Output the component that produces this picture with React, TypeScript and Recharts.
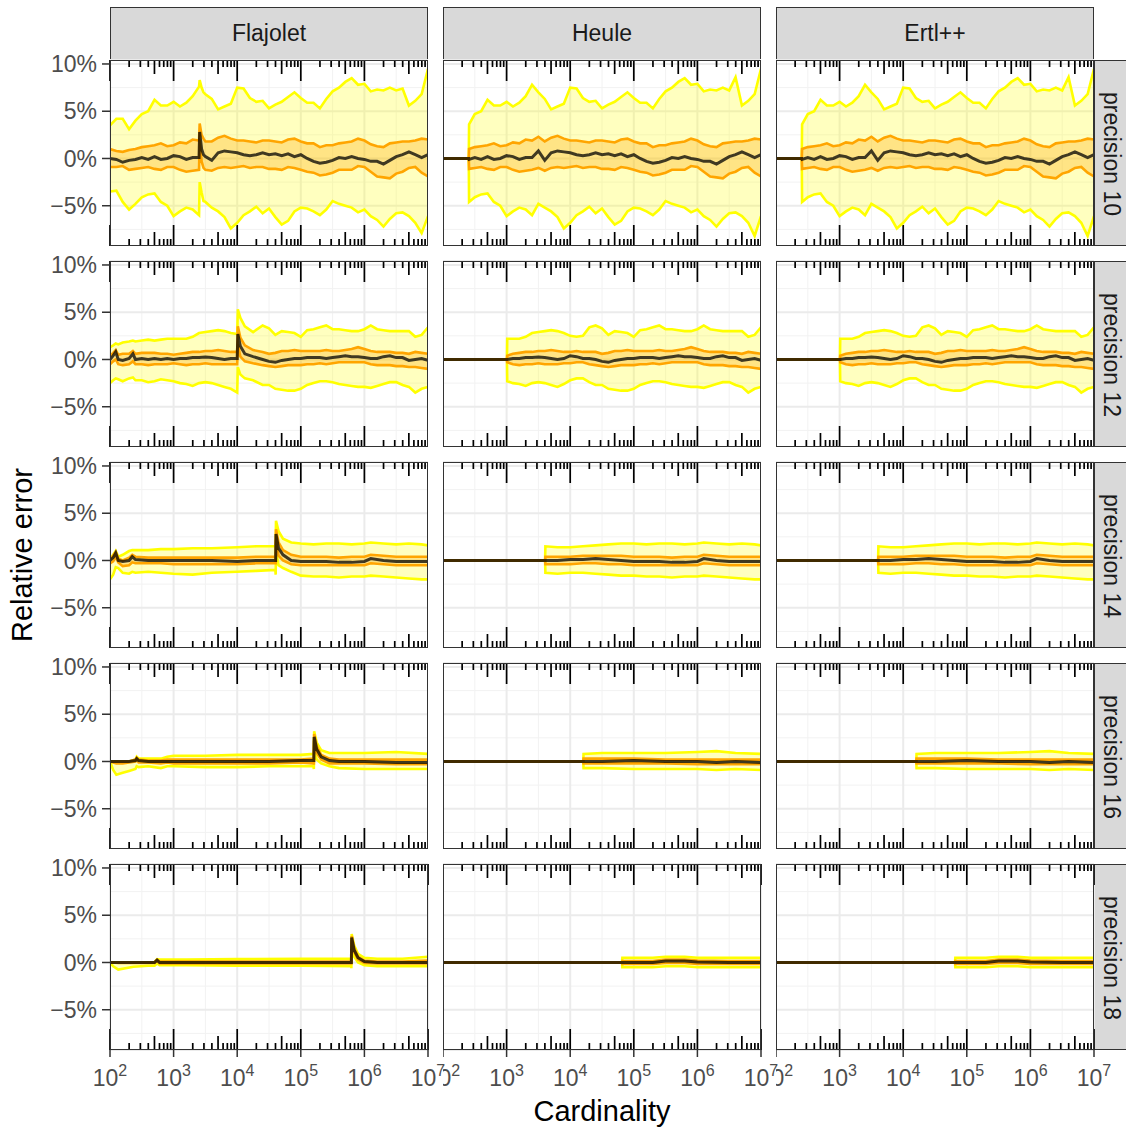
import React from 'react';
import { ComposedChart, Area, Line, XAxis, YAxis, CartesianGrid } from 'recharts';

// each row: [log10(cardinality), q2.5, q25, median, q75, q97.5]  (relative error in %)
const FLAJOLET_P10 = [
  [2.0, -3.5, -0.9, 0.0, 1.0, 3.5], [2.1, -3.4, -0.9, -0.1, 0.8, 4.2], [2.2, -4.6, -0.8, -0.4, 0.7, 4.2],
  [2.3, -5.4, -1.2, -0.2, 0.9, 3.1], [2.4, -4.8, -1.1, -0.1, 1.0, 4.0], [2.5, -4.1, -1.0, 0.1, 1.2, 4.7],
  [2.6, -3.8, -0.9, -0.1, 1.3, 5.0], [2.7, -3.7, -1.1, 0.2, 1.4, 6.2], [2.8, -4.6, -1.2, -0.1, 1.6, 5.6],
  [2.9, -5.0, -0.9, 0.0, 1.3, 5.6], [3.0, -6.1, -0.9, 0.3, 1.4, 6.0], [3.1, -5.6, -1.2, 0.2, 1.7, 5.5],
  [3.2, -5.2, -1.4, -0.1, 1.6, 5.9], [3.3, -5.4, -1.3, 0.1, 2.0, 6.6], [3.4, -6.0, -1.2, 0.1, 1.9, 7.6],
  [3.41, -2.5, 2.0, 2.8, 3.7, 8.3], [3.44, -3.6, -0.3, 1.0, 2.5, 7.5], [3.47, -4.5, -1.0, 0.4, 2.1, 7.0],
  [3.5, -4.6, -1.2, 0.2, 1.8, 6.8], [3.6, -5.2, -1.3, -0.2, 1.8, 6.3], [3.7, -5.6, -1.0, 0.6, 2.2, 5.2],
  [3.8, -6.2, -0.9, 0.8, 2.4, 5.5], [3.9, -7.4, -1.0, 0.7, 2.1, 5.8], [4.0, -6.8, -0.9, 0.6, 1.9, 7.5],
  [4.1, -6.0, -0.8, 0.4, 1.9, 7.4], [4.2, -5.6, -1.0, 0.3, 1.8, 6.4], [4.3, -5.1, -0.9, 0.4, 1.7, 6.0],
  [4.4, -5.8, -0.9, 0.6, 1.9, 6.1], [4.5, -5.3, -1.1, 0.4, 1.9, 5.3], [4.6, -6.2, -1.1, 0.5, 1.8, 5.7],
  [4.7, -7.0, -1.2, 0.3, 1.7, 6.0], [4.8, -6.6, -0.9, 0.5, 2.0, 6.5], [4.9, -5.6, -1.0, 0.2, 2.1, 7.0],
  [5.0, -5.2, -1.2, 0.4, 1.8, 6.4], [5.1, -5.3, -1.4, 0.0, 1.6, 5.9], [5.2, -5.6, -1.5, -0.3, 1.6, 5.9],
  [5.3, -6.0, -1.8, -0.5, 1.2, 5.3], [5.4, -5.4, -1.7, -0.4, 1.4, 6.3], [5.5, -4.5, -1.5, -0.2, 1.4, 7.1],
  [5.6, -4.8, -1.2, 0.1, 1.6, 7.5], [5.7, -5.0, -1.2, 0.0, 1.7, 8.1], [5.8, -5.2, -1.2, 0.2, 1.8, 8.5],
  [5.9, -5.7, -0.8, 0.0, 2.1, 7.8], [6.0, -5.4, -0.9, -0.1, 1.9, 7.9], [6.1, -6.1, -1.4, -0.3, 1.5, 7.1],
  [6.2, -6.5, -1.9, -0.3, 1.3, 7.3], [6.3, -7.2, -2.0, -0.6, 1.2, 7.2], [6.4, -6.4, -2.1, -0.2, 1.6, 7.5],
  [6.5, -5.8, -1.6, 0.2, 1.7, 7.2], [6.6, -5.7, -1.4, 0.4, 1.8, 7.4], [6.7, -6.1, -1.0, 0.7, 1.8, 5.6],
  [6.8, -6.8, -0.9, 0.4, 1.9, 6.1], [6.9, -7.9, -1.5, 0.1, 2.1, 6.8], [7.0, -6.1, -1.9, 0.4, 2.0, 9.5],
];

const HEULE_P10 = [
  [2.0, 0, 0, 0, 0, 0], [2.405, 0, 0, 0, 0, 0], [2.41, -4.6, -1.1, -0.1, 1.0, 3.6],
  [2.5, -4.1, -1.0, 0.1, 1.2, 4.7], [2.6, -3.8, -0.9, -0.1, 1.3, 5.0], [2.7, -3.7, -1.1, 0.2, 1.4, 6.2],
  [2.8, -4.6, -1.2, -0.1, 1.6, 5.6], [2.9, -5.0, -0.9, 0.0, 1.3, 5.6], [3.0, -6.1, -0.9, 0.3, 1.4, 6.0],
  [3.1, -5.6, -1.2, 0.2, 1.7, 5.5], [3.2, -5.2, -1.4, -0.1, 1.6, 5.9], [3.3, -5.4, -1.3, 0.1, 2.0, 6.6],
  [3.4, -6.0, -1.2, 0.1, 1.9, 7.8], [3.5, -4.8, -1.0, 0.8, 2.3, 7.0], [3.6, -5.2, -1.3, -0.2, 1.8, 6.3],
  [3.7, -5.6, -1.0, 0.6, 2.2, 5.2], [3.8, -6.2, -0.9, 0.8, 2.4, 5.5], [3.9, -7.4, -1.0, 0.7, 2.1, 5.8],
  [4.0, -6.8, -0.9, 0.6, 1.9, 7.5], [4.1, -6.0, -0.8, 0.4, 1.9, 7.4], [4.2, -5.6, -1.0, 0.3, 1.8, 6.4],
  [4.3, -5.1, -0.9, 0.4, 1.7, 6.0], [4.4, -5.8, -0.9, 0.6, 1.9, 6.1], [4.5, -5.3, -1.1, 0.4, 1.9, 5.3],
  [4.6, -6.2, -1.1, 0.5, 1.8, 5.7], [4.7, -7.0, -1.2, 0.3, 1.7, 6.0], [4.8, -6.6, -0.9, 0.5, 2.0, 6.5],
  [4.9, -5.6, -1.0, 0.2, 2.1, 7.0], [5.0, -5.2, -1.2, 0.4, 1.8, 6.4], [5.1, -5.3, -1.4, 0.0, 1.6, 5.9],
  [5.2, -5.6, -1.5, -0.3, 1.6, 5.9], [5.3, -6.0, -1.8, -0.5, 1.2, 5.3], [5.4, -5.4, -1.7, -0.4, 1.4, 6.3],
  [5.5, -4.5, -1.5, -0.2, 1.4, 7.1], [5.6, -4.8, -1.2, 0.1, 1.6, 7.5], [5.7, -5.0, -1.2, 0.0, 1.7, 8.1],
  [5.8, -5.2, -1.2, 0.2, 1.8, 8.5], [5.9, -5.7, -0.8, 0.0, 2.1, 7.8], [6.0, -5.4, -0.9, -0.1, 1.9, 7.9],
  [6.1, -6.1, -1.4, -0.3, 1.5, 7.1], [6.2, -6.5, -1.9, -0.3, 1.3, 7.3], [6.3, -7.2, -2.0, -0.6, 1.2, 7.2],
  [6.4, -6.4, -2.1, -0.2, 1.6, 7.5], [6.5, -5.8, -1.6, 0.2, 1.7, 7.2], [6.6, -5.7, -1.4, 0.4, 1.8, 8.6],
  [6.7, -6.1, -1.0, 0.7, 1.8, 5.6], [6.8, -6.8, -0.9, 0.4, 1.9, 6.1], [6.9, -8.2, -1.5, 0.1, 2.1, 6.8],
  [7.0, -6.1, -1.9, 0.4, 2.0, 9.5],
];

const FLAJOLET_P12 = [
  [2.0, -2.5, -0.5, 0.0, 0.4, 1.3], [2.05, -2.2, -0.2, 0.4, 0.7, 1.5], [2.09, -2.0, 0.0, 0.8, 1.0, 1.7],
  [2.13, -2.1, -0.5, 0.0, 0.5, 1.6], [2.2, -2.3, -0.6, -0.1, 0.6, 1.8], [2.3, -2.0, -0.5, 0.1, 0.6, 1.9],
  [2.36, -1.9, -0.2, 0.6, 0.9, 2.0], [2.4, -2.2, -0.5, 0.0, 0.6, 1.9], [2.5, -2.2, -0.5, 0.1, 0.7, 2.0],
  [2.6, -2.4, -0.6, 0.0, 0.7, 2.1], [2.7, -2.3, -0.5, 0.1, 0.7, 2.0], [2.8, -2.1, -0.5, 0.0, 0.6, 2.1],
  [2.9, -2.2, -0.5, 0.1, 0.6, 2.2], [3.0, -2.3, -0.4, 0.0, 0.5, 2.2], [3.1, -2.5, -0.5, 0.1, 0.6, 2.2],
  [3.2, -2.6, -0.6, 0.1, 0.7, 2.2], [3.3, -2.8, -0.5, 0.2, 0.8, 2.4], [3.4, -2.5, -0.5, 0.2, 0.8, 2.8],
  [3.5, -2.4, -0.4, 0.25, 0.9, 2.9], [3.6, -2.5, -0.5, 0.2, 0.9, 3.0], [3.7, -2.7, -0.5, 0.1, 1.0, 3.1],
  [3.8, -2.9, -0.5, 0.0, 0.9, 3.0], [3.9, -3.1, -0.5, 0.1, 0.8, 2.8], [4.0, -3.5, -0.5, 0.1, 0.8, 2.7],
  [4.01, -0.8, 1.6, 2.7, 3.5, 5.3], [4.05, -1.6, 0.3, 1.4, 2.3, 4.4], [4.12, -2.0, -0.2, 0.6, 1.5, 3.5],
  [4.25, -2.2, -0.4, 0.3, 1.0, 2.9], [4.4, -2.7, -0.6, 0.0, 0.8, 3.6], [4.5, -2.7, -0.7, -0.2, 0.6, 3.3],
  [4.6, -3.1, -0.8, -0.3, 0.7, 2.6], [4.7, -3.2, -0.7, -0.1, 0.9, 3.0], [4.8, -3.3, -0.6, 0.0, 0.9, 2.9],
  [4.9, -3.3, -0.6, 0.1, 1.0, 2.8], [5.0, -3.1, -0.6, 0.1, 0.9, 2.4], [5.1, -2.7, -0.5, 0.2, 0.9, 3.1],
  [5.2, -2.5, -0.5, 0.2, 0.9, 3.2], [5.3, -2.3, -0.4, 0.2, 0.9, 3.4], [5.4, -2.3, -0.5, 0.1, 1.0, 3.6],
  [5.5, -2.4, -0.4, 0.2, 0.9, 3.2], [5.6, -2.6, -0.3, 0.3, 0.9, 3.2], [5.7, -2.7, -0.3, 0.4, 1.0, 3.1],
  [5.8, -2.8, -0.3, 0.3, 1.1, 3.0], [5.9, -2.9, -0.3, 0.3, 1.3, 3.0], [6.0, -2.9, -0.3, 0.2, 1.1, 3.2],
  [6.1, -3.0, -0.5, 0.1, 0.9, 3.6], [6.2, -2.8, -0.6, 0.1, 0.8, 3.2], [6.3, -2.6, -0.6, 0.3, 0.8, 3.1],
  [6.4, -2.4, -0.6, 0.4, 0.8, 3.0], [6.5, -2.4, -0.7, 0.2, 0.7, 3.0], [6.6, -2.7, -0.7, 0.2, 0.7, 3.0],
  [6.7, -2.9, -0.8, -0.1, 0.6, 3.0], [6.8, -3.5, -0.8, 0.0, 0.8, 2.4], [6.9, -3.1, -0.9, 0.1, 0.7, 2.6],
  [7.0, -2.9, -1.0, -0.1, 0.6, 3.4],
];

const HEULE_P12 = [
  [2.0, 0, 0, 0, 0, 0], [3.005, 0, 0, 0, 0, 0], [3.01, -2.3, -0.3, 0.0, 0.4, 2.2],
  [3.1, -2.5, -0.5, 0.1, 0.6, 2.2], [3.2, -2.6, -0.6, 0.1, 0.7, 2.2], [3.3, -2.8, -0.5, 0.2, 0.8, 2.4],
  [3.4, -2.5, -0.5, 0.2, 0.8, 2.8], [3.5, -2.4, -0.4, 0.25, 0.9, 2.9], [3.6, -2.5, -0.5, 0.2, 0.9, 3.0],
  [3.7, -2.7, -0.5, 0.1, 1.0, 3.1], [3.8, -2.9, -0.5, 0.0, 0.9, 3.0], [3.9, -2.6, -0.4, 0.1, 0.8, 2.8],
  [4.0, -2.2, -0.4, 0.4, 0.8, 2.5], [4.1, -2.0, -0.3, 0.3, 0.9, 2.4], [4.2, -2.0, -0.3, 0.1, 0.8, 2.5],
  [4.3, -2.4, -0.5, 0.1, 0.8, 3.4], [4.4, -2.7, -0.6, 0.0, 0.8, 3.6], [4.5, -2.7, -0.7, -0.2, 0.6, 3.3],
  [4.6, -3.1, -0.8, -0.3, 0.7, 2.6], [4.7, -3.2, -0.7, -0.1, 0.9, 3.0], [4.8, -3.3, -0.6, 0.0, 0.9, 2.9],
  [4.9, -3.3, -0.6, 0.1, 1.0, 2.8], [5.0, -3.1, -0.6, 0.1, 0.9, 2.4], [5.1, -2.7, -0.5, 0.2, 0.9, 3.1],
  [5.2, -2.5, -0.5, 0.2, 0.9, 3.2], [5.3, -2.3, -0.4, 0.2, 0.9, 3.4], [5.4, -2.3, -0.5, 0.1, 1.0, 3.6],
  [5.5, -2.4, -0.4, 0.2, 0.9, 3.2], [5.6, -2.6, -0.3, 0.3, 0.9, 3.2], [5.7, -2.7, -0.3, 0.4, 1.0, 3.1],
  [5.8, -2.8, -0.3, 0.3, 1.1, 3.0], [5.9, -2.9, -0.3, 0.3, 1.3, 3.0], [6.0, -2.9, -0.3, 0.2, 1.1, 3.2],
  [6.1, -3.0, -0.5, 0.1, 0.9, 3.6], [6.2, -2.8, -0.6, 0.1, 0.8, 3.2], [6.3, -2.6, -0.6, 0.3, 0.8, 3.1],
  [6.4, -2.4, -0.6, 0.4, 0.8, 3.0], [6.5, -2.4, -0.7, 0.2, 0.7, 3.0], [6.6, -2.7, -0.7, 0.2, 0.7, 3.0],
  [6.7, -2.9, -0.8, -0.1, 0.6, 3.0], [6.8, -3.5, -0.8, 0.0, 0.8, 2.4], [6.9, -3.1, -0.9, 0.1, 0.7, 2.6],
  [7.0, -2.9, -1.0, -0.1, 0.6, 3.4],
];

const FLAJOLET_P14 = [
  [2.0, -2.0, -0.3, 0.0, 0.1, 0.1], [2.05, -1.5, -0.1, 0.3, 0.5, 0.6], [2.09, -0.7, 0.4, 0.8, 0.9, 1.0],
  [2.13, -0.8, -0.2, 0.0, 0.2, 0.4], [2.2, -1.3, -0.6, -0.1, 0.0, 0.6], [2.3, -1.4, -0.5, 0.0, 0.3, 1.0],
  [2.35, -1.2, -0.2, 0.4, 0.6, 1.1], [2.4, -1.3, -0.3, 0.1, 0.4, 1.1], [2.6, -1.2, -0.3, 0.0, 0.3, 1.1],
  [2.8, -1.3, -0.3, 0.0, 0.3, 1.2], [3.0, -1.4, -0.4, 0.0, 0.3, 1.2], [3.3, -1.5, -0.4, 0.0, 0.3, 1.3],
  [3.6, -1.3, -0.4, 0.0, 0.3, 1.3], [4.0, -1.2, -0.4, -0.1, 0.3, 1.4], [4.3, -1.1, -0.3, 0.0, 0.4, 1.5],
  [4.6, -1.0, -0.3, 0.0, 0.4, 1.5], [4.605, -1.5, -0.3, 0.0, 0.4, 1.5], [4.61, 1.0, 2.2, 2.8, 3.3, 4.2],
  [4.65, -0.5, 0.5, 1.3, 1.9, 3.1], [4.72, -0.8, 0.0, 0.6, 1.1, 2.3], [4.85, -1.2, -0.4, 0.0, 0.6, 1.9],
  [5.0, -1.6, -0.5, -0.1, 0.4, 1.8], [5.2, -1.7, -0.5, -0.1, 0.4, 1.7], [5.4, -1.7, -0.5, -0.1, 0.4, 1.8],
  [5.6, -1.8, -0.5, -0.2, 0.3, 1.8], [5.8, -1.7, -0.5, -0.2, 0.4, 1.7], [6.0, -1.7, -0.5, -0.1, 0.4, 1.8],
  [6.1, -1.6, -0.3, 0.2, 0.6, 1.9], [6.3, -1.7, -0.4, 0.0, 0.5, 1.8], [6.5, -1.8, -0.5, -0.1, 0.4, 1.7],
  [6.7, -1.9, -0.5, -0.1, 0.4, 1.8], [6.9, -2.0, -0.5, -0.1, 0.4, 1.7], [7.0, -2.0, -0.5, -0.1, 0.4, 1.6],
];

const HEULE_P14 = [
  [2.0, 0, 0, 0, 0, 0], [3.605, 0, 0, 0, 0, 0], [3.61, -1.3, -0.4, 0.0, 0.4, 1.5],
  [3.8, -1.4, -0.4, 0.0, 0.4, 1.4], [4.0, -1.3, -0.4, 0.1, 0.4, 1.4], [4.2, -1.3, -0.3, 0.1, 0.5, 1.5],
  [4.4, -1.4, -0.3, 0.2, 0.5, 1.6], [4.6, -1.5, -0.4, 0.1, 0.5, 1.7], [4.8, -1.6, -0.4, 0.0, 0.5, 1.8],
  [5.0, -1.6, -0.5, -0.1, 0.4, 1.8], [5.2, -1.7, -0.5, -0.1, 0.4, 1.7], [5.4, -1.7, -0.5, -0.1, 0.4, 1.8],
  [5.6, -1.8, -0.5, -0.2, 0.3, 1.8], [5.8, -1.7, -0.5, -0.2, 0.4, 1.7], [6.0, -1.7, -0.5, -0.1, 0.4, 1.8],
  [6.1, -1.6, -0.3, 0.2, 0.6, 1.9], [6.3, -1.7, -0.4, 0.0, 0.5, 1.8], [6.5, -1.8, -0.5, -0.1, 0.4, 1.7],
  [6.7, -1.9, -0.5, -0.1, 0.4, 1.8], [6.9, -2.0, -0.5, -0.1, 0.4, 1.7], [7.0, -2.0, -0.5, -0.1, 0.4, 1.6],
];

const FLAJOLET_P16 = [
  [2.0, 0, 0, 0, 0, 0], [2.05, -0.9, -0.1, 0.0, 0.0, 0.0], [2.1, -1.4, -0.2, 0.0, 0.0, 0.0],
  [2.2, -1.2, -0.2, 0.0, 0.0, 0.0], [2.3, -1.0, -0.1, 0.0, 0.0, 0.0], [2.4, -0.8, 0.0, 0.1, 0.2, 0.2],
  [2.42, -0.5, 0.2, 0.3, 0.4, 0.5], [2.45, -0.6, -0.1, 0.1, 0.2, 0.3], [2.6, -0.5, -0.1, 0.0, 0.1, 0.3],
  [2.8, -0.7, -0.2, 0.0, 0.1, 0.3], [2.9, -0.5, -0.1, 0.0, 0.2, 0.5], [3.0, -0.5, -0.2, 0.0, 0.2, 0.6],
  [3.5, -0.6, -0.2, 0.0, 0.2, 0.6], [4.0, -0.6, -0.2, 0.0, 0.2, 0.7], [4.5, -0.5, -0.2, 0.0, 0.2, 0.7],
  [5.0, -0.5, -0.1, 0.1, 0.2, 0.7], [5.2, -0.5, -0.2, 0.1, 0.3, 0.8], [5.205, -0.8, -0.2, 0.1, 0.3, 0.8],
  [5.21, 1.2, 2.2, 2.6, 2.9, 3.2], [5.25, 0.2, 0.9, 1.3, 1.6, 2.0], [5.32, -0.2, 0.2, 0.5, 0.7, 1.2],
  [5.45, -0.5, -0.2, 0.1, 0.3, 0.9], [5.6, -0.7, -0.2, 0.0, 0.2, 0.9], [6.0, -0.8, -0.2, 0.0, 0.2, 0.9],
  [6.5, -0.8, -0.3, -0.1, 0.2, 1.0], [7.0, -0.8, -0.3, -0.1, 0.2, 0.8],
];

const HEULE_P16 = [
  [2.0, 0, 0, 0, 0, 0], [4.205, 0, 0, 0, 0, 0], [4.21, -0.7, -0.2, 0.0, 0.3, 0.8],
  [4.5, -0.7, -0.2, 0.0, 0.3, 0.9], [5.0, -0.8, -0.2, 0.1, 0.3, 0.9], [5.5, -0.8, -0.2, 0.0, 0.2, 0.9],
  [6.0, -0.8, -0.3, 0.0, 0.2, 1.0], [6.3, -0.9, -0.3, -0.1, 0.2, 1.1], [6.6, -0.8, -0.3, 0.0, 0.2, 0.9],
  [7.0, -0.9, -0.3, -0.1, 0.2, 0.8],
];

const FLAJOLET_P18 = [
  [2.0, 0, 0, 0, 0, 0], [2.05, -0.4, 0, 0, 0, 0], [2.13, -0.75, -0.05, 0, 0, 0],
  [2.37, -0.45, -0.05, 0, 0, 0], [2.6, -0.35, -0.05, 0, 0, 0], [2.7, -0.35, -0.05, 0, 0, 0.05],
  [2.74, -0.1, 0.15, 0.25, 0.3, 0.35], [2.78, -0.3, -0.1, 0.0, 0.1, 0.3], [3.2, -0.3, -0.1, 0.0, 0.1, 0.3],
  [4.0, -0.35, -0.1, 0.0, 0.1, 0.35], [5.0, -0.35, -0.1, 0.0, 0.1, 0.4], [5.79, -0.4, -0.1, 0.0, 0.1, 0.4],
  [5.795, -0.6, -0.1, 0.0, 0.1, 0.4], [5.8, 1.8, 2.4, 2.65, 2.8, 3.0], [5.84, 0.6, 1.1, 1.3, 1.5, 1.8],
  [5.9, 0.0, 0.3, 0.5, 0.6, 0.9], [6.0, -0.3, -0.05, 0.1, 0.2, 0.5], [6.2, -0.4, -0.1, 0.0, 0.1, 0.4],
  [6.6, -0.4, -0.1, 0.0, 0.1, 0.4], [7.0, -0.4, -0.1, 0.0, 0.2, 0.6],
];

const HEULE_P18 = [
  [2.0, 0, 0, 0, 0, 0], [4.815, 0, 0, 0, 0, 0], [4.82, -0.5, -0.15, 0.0, 0.15, 0.5],
  [5.3, -0.5, -0.15, 0.0, 0.15, 0.5], [5.5, -0.4, -0.05, 0.15, 0.3, 0.6], [5.8, -0.4, -0.05, 0.15, 0.3, 0.6],
  [6.0, -0.5, -0.15, 0.05, 0.2, 0.5], [6.5, -0.5, -0.15, 0.0, 0.15, 0.5], [7.0, -0.5, -0.15, 0.0, 0.15, 0.5],
];

const ESTIMATORS = ['Flajolet', 'Heule', 'Ertl++'];
const PRECISIONS = [10, 12, 14, 16, 18];
// Heule and Ertl++ give the same curves in the picture
const SERIES_BY_ESTIMATOR = [
  [FLAJOLET_P10, FLAJOLET_P12, FLAJOLET_P14, FLAJOLET_P16, FLAJOLET_P18],
  [HEULE_P10, HEULE_P12, HEULE_P14, HEULE_P16, HEULE_P18],
  [HEULE_P10, HEULE_P12, HEULE_P14, HEULE_P16, HEULE_P18],
];

const X_DECADES = [2, 3, 4, 5, 6, 7];
const X_MINOR_EXP = [2.5, 3.5, 4.5, 5.5, 6.5];
const LOG_MANTISSAS = [1, 2, 3, 4, 5, 6, 7, 8, 9];
const Y_TICKS = [-0.05, 0, 0.05, 0.1];
const Y_MINOR = [-0.075, -0.025, 0.025, 0.075];

const X_TICKS = X_DECADES.map((d) => 10 ** d);
const X_MINOR = X_MINOR_EXP.map((d) => 10 ** d);
const LOG_TICK_MANTISSA = X_DECADES.slice(0, -1).flatMap(() => LOG_MANTISSAS).concat([1]);
const LOG_TICKS = X_DECADES.slice(0, -1)
  .flatMap((d) => LOG_MANTISSAS.map((m) => m * 10 ** d))
  .concat([10 ** 7]);

const X_DOMAIN = [100, 1e7];
const Y_DOMAIN = [-0.0926, 0.1042];

const PANEL_LEFT = [110, 443, 776];
const PANEL_TOP = [60, 261, 462, 663, 864];
const PANEL_W = 318;
const PANEL_H = 186;
const MT = 14;

const FONT = '"Liberation Sans", Arial, Helvetica, sans-serif';
const YELLOW = '#FFFF00';
const ORANGE = '#FFA500';

const pct = (v: number) => (v < 0 ? '\u2212' : '') + Math.abs(Math.round(v * 100)) + '%';

// annotation_logticks style marks, drawn at top and bottom of each panel
const LogTickLine = (props: any) => {
  const { x1, y1, y2, index } = props;
  const m = LOG_TICK_MANTISSA[index];
  if (m === undefined) return <g key={props.key} />;
  const len = m === 1 ? 21 : m === 5 ? 14 : 7;
  return (
    <g key={props.key}>
      <line x1={x1} x2={x1} y1={y1} y2={y1 + len} stroke="#000" strokeWidth={1.7} />
      <line x1={x1} x2={x1} y1={y2} y2={y2 - len} stroke="#000" strokeWidth={1.7} />
    </g>
  );
};

const DecadeTick = (props: any) => {
  const { x, y, payload } = props;
  const k = Math.round(Math.log10(payload.value));
  return (
    <text x={x} y={y} dy={27} textAnchor="middle" fill="#4D4D4D" fontSize={23} fontFamily={FONT}>
      10<tspan dy={-10} fontSize={16}>{k}</tspan>
    </text>
  );
};

function Panel({ rows, col, row }: { rows: number[][]; col: number; row: number }) {
  const firstCol = col === 0;
  const lastRow = row === PRECISIONS.length - 1;
  const yw = firstCol ? 70 : 0;
  const xh = lastRow ? 50 : 0;
  const mr = lastRow ? 26 : 0;
  const width = PANEL_W + yw + mr;
  const height = PANEL_H + xh + MT;
  const data = rows.map(([e, l95, l50, m, h50, h95]) => ({
    x: 10 ** e,
    band95: [l95 / 100, h95 / 100],
    band50: [l50 / 100, h50 / 100],
    lo95: l95 / 100,
    lo50: l50 / 100,
    med: m / 100,
    hi50: h50 / 100,
    hi95: h95 / 100,
  }));
  const common = { xAxisId: 'main', yAxisId: 'main', isAnimationActive: false, type: 'linear' as const };
  return (
    <div style={{ position: 'absolute', left: PANEL_LEFT[col] - yw, top: PANEL_TOP[row] - MT, width, height }}>
      <ComposedChart width={width} height={height} data={data} margin={{ top: MT, right: mr, bottom: 0, left: 0 }}>
        <XAxis
          xAxisId="main"
          dataKey="x"
          type="number"
          scale="log"
          domain={X_DOMAIN}
          allowDataOverflow
          ticks={X_TICKS}
          interval={0}
          hide={!lastRow}
          height={xh}
          axisLine={false}
          tickSize={7}
          tickMargin={2}
          tickLine={{ stroke: '#333333', strokeWidth: 1.5 }}
          tick={DecadeTick}
        />
        <YAxis
          yAxisId="main"
          type="number"
          domain={Y_DOMAIN}
          allowDataOverflow
          ticks={Y_TICKS}
          interval={0}
          hide={!firstCol}
          width={yw}
          axisLine={false}
          tickSize={8}
          tickMargin={5}
          tickLine={{ stroke: '#333333', strokeWidth: 1.5 }}
          tick={{ fill: '#4D4D4D', fontSize: 23, fontFamily: FONT }}
          tickFormatter={pct}
        />
        <XAxis xAxisId="minor" dataKey="x" type="number" scale="log" domain={X_DOMAIN} allowDataOverflow ticks={X_MINOR} interval={0} height={0} hide />
        <YAxis yAxisId="minor" type="number" domain={Y_DOMAIN} allowDataOverflow ticks={Y_MINOR} interval={0} width={0} hide />
        <XAxis xAxisId="logticks" dataKey="x" type="number" scale="log" domain={X_DOMAIN} allowDataOverflow ticks={LOG_TICKS} interval={0} height={0} hide />
        <CartesianGrid xAxisId="minor" yAxisId="minor" stroke="#F2F2F2" strokeWidth={1} />
        <CartesianGrid xAxisId="main" yAxisId="main" stroke="#EBEBEB" strokeWidth={2} />
        <Area {...common} dataKey="band95" fill={YELLOW} fillOpacity={0.25} stroke="none" />
        <Line {...common} dataKey="lo95" stroke={YELLOW} strokeWidth={2.6} dot={false} />
        <Line {...common} dataKey="hi95" stroke={YELLOW} strokeWidth={2.6} dot={false} />
        <Area {...common} dataKey="band50" fill={ORANGE} fillOpacity={0.3} stroke="none" />
        <Line {...common} dataKey="lo50" stroke={ORANGE} strokeWidth={2.6} dot={false} />
        <Line {...common} dataKey="hi50" stroke={ORANGE} strokeWidth={2.6} dot={false} />
        <Line {...common} dataKey="med" stroke="#000000" strokeOpacity={0.75} strokeWidth={3} dot={false} />
        <CartesianGrid xAxisId="logticks" yAxisId="minor" horizontal={false} vertical={LogTickLine} fill="none" />
      </ComposedChart>
    </div>
  );
}

export default function App() {
  return (
    <div style={{ position: 'absolute', left: 0, top: 0, width: 1126, height: 1128, background: '#fff', fontFamily: FONT, overflow: 'hidden' }}>
      {ESTIMATORS.map((name, c) => (
        <div
          key={'strip-' + name}
          style={{
            position: 'absolute', left: PANEL_LEFT[c], top: 7, width: PANEL_W, height: 53, boxSizing: 'border-box',
            background: '#D9D9D9', border: '1.5px solid #333333', display: 'flex', alignItems: 'center',
            justifyContent: 'center', fontSize: 23, color: '#1A1A1A',
          }}
        >
          {name}
        </div>
      ))}
      {PRECISIONS.map((p, r) => (
        <div
          key={'rstrip-' + p}
          style={{
            position: 'absolute', left: 1094, top: PANEL_TOP[r], width: 40, height: PANEL_H, boxSizing: 'border-box',
            background: '#D9D9D9', border: '1.5px solid #333333',
          }}
        >
          <div
            style={{
              position: 'absolute', left: 16, top: PANEL_H / 2, transform: 'translate(-50%, -50%) rotate(90deg)',
              whiteSpace: 'nowrap', fontSize: 23, color: '#1A1A1A',
            }}
          >
            {'precision ' + p}
          </div>
        </div>
      ))}
      {PRECISIONS.map((p, r) =>
        ESTIMATORS.map((name, c) => <Panel key={name + p} rows={SERIES_BY_ESTIMATOR[c][r]} col={c} row={r} />)
      )}
      {PRECISIONS.map((p, r) =>
        ESTIMATORS.map((name, c) => (
          <div
            key={'border-' + name + p}
            style={{
              position: 'absolute', left: PANEL_LEFT[c], top: PANEL_TOP[r], width: PANEL_W, height: PANEL_H,
              boxSizing: 'border-box', border: '1.5px solid #333333', pointerEvents: 'none',
            }}
          />
        ))
      )}
      <div
        style={{
          position: 'absolute', left: 22, top: 555, transform: 'translate(-50%, -50%) rotate(-90deg)',
          whiteSpace: 'nowrap', fontSize: 29, color: '#000',
        }}
      >
        Relative error
      </div>
      <div
        style={{
          position: 'absolute', left: 602, top: 1111, transform: 'translate(-50%, -50%)',
          whiteSpace: 'nowrap', fontSize: 29, color: '#000',
        }}
      >
        Cardinality
      </div>
    </div>
  );
}
